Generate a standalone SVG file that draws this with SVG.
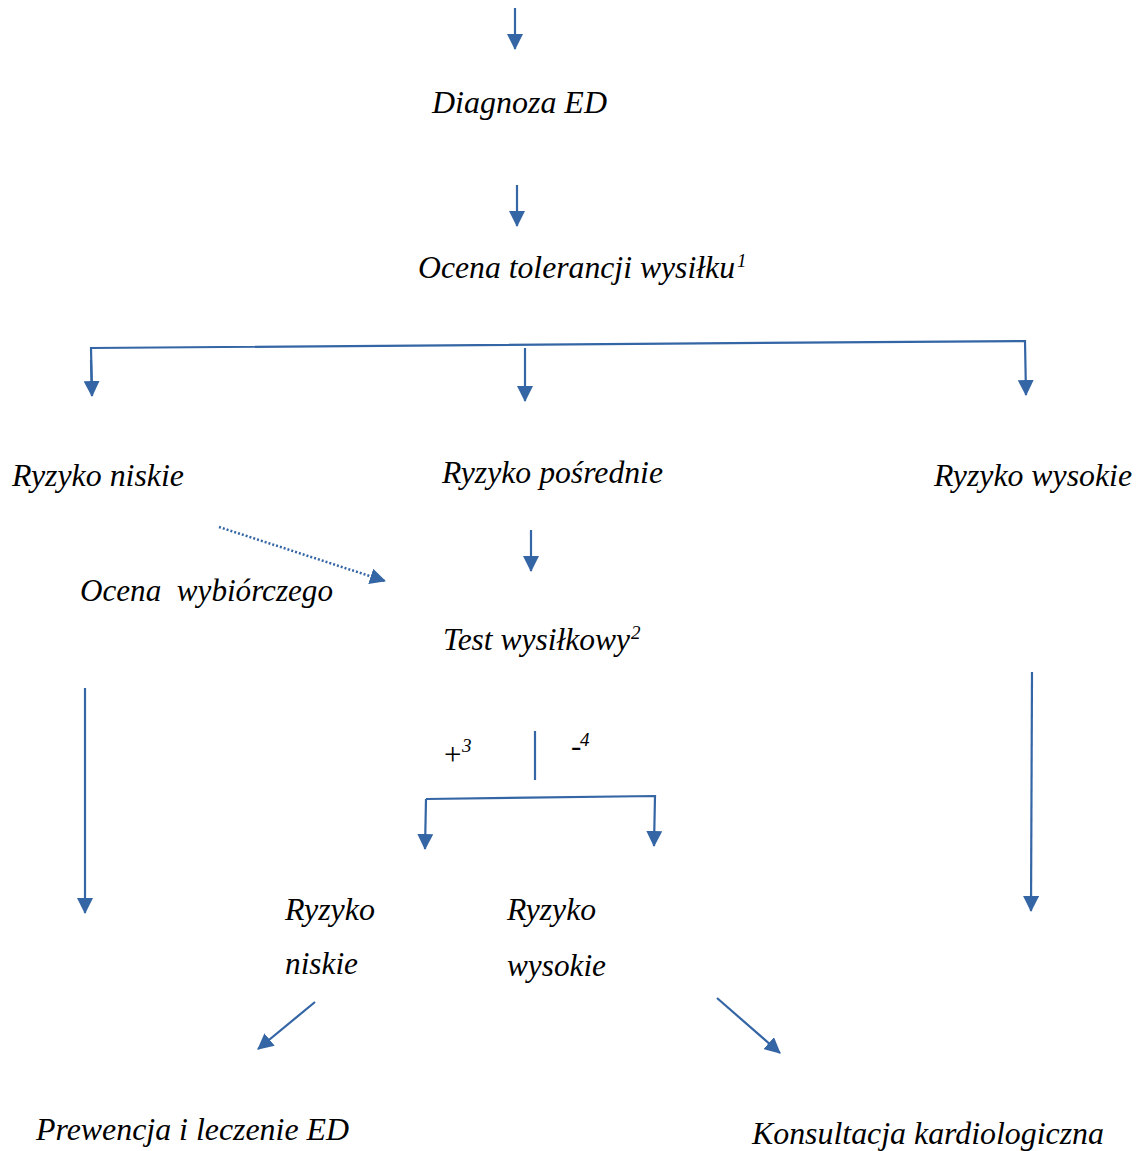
<svg xmlns="http://www.w3.org/2000/svg" width="1136" height="1151" viewBox="0 0 1136 1151">
<style>
text{font-family:"Liberation Serif","Times New Roman",serif;font-style:italic;font-size:31px;fill:#000;white-space:pre}
.sup{font-size:19px}
.ln{stroke:#3465a4;stroke-width:2.2;fill:none}
.dot{stroke:#3465a4;stroke-width:2.5;fill:none;stroke-dasharray:2 2}
</style>
<defs>
<marker id="ah" markerUnits="userSpaceOnUse" markerWidth="16" markerHeight="16" viewBox="0 0 16 16" refX="15" refY="8" orient="auto">
<path d="M0,0 L16,8 L0,16 Z" fill="#3465a4"/>
</marker>
</defs>
<g id="connectors">
<line class="ln" x1="515" y1="8" x2="515" y2="49" marker-end="url(#ah)"/>
<line class="ln" x1="517" y1="185" x2="517" y2="226" marker-end="url(#ah)"/>
<polyline class="ln" points="92,395 91,348 1025,341 1026,395" marker-end="url(#ah)"/>
<line class="ln" x1="91" y1="360" x2="92" y2="396" marker-end="url(#ah)"/>
<line class="ln" x1="525" y1="348" x2="525" y2="401" marker-end="url(#ah)"/>
<line class="dot" x1="219" y1="527" x2="385" y2="581" marker-end="url(#ah)"/>
<line class="ln" x1="531" y1="530" x2="531" y2="571" marker-end="url(#ah)"/>
<line class="ln" x1="535" y1="731" x2="535" y2="780"/>
<polyline class="ln" points="426,799 655,796 654,846" marker-end="url(#ah)"/>
<line class="ln" x1="426" y1="799" x2="425" y2="849" marker-end="url(#ah)"/>
<line class="ln" x1="85" y1="688" x2="85" y2="913" marker-end="url(#ah)"/>
<line class="ln" x1="1032" y1="672" x2="1031" y2="911" marker-end="url(#ah)"/>
<line class="ln" x1="315" y1="1002" x2="258" y2="1049" marker-end="url(#ah)"/>
<line class="ln" x1="717" y1="998" x2="780" y2="1053" marker-end="url(#ah)"/>
</g>
<g id="n-diagnoza"><text x="432" y="113" textLength="175" lengthAdjust="spacingAndGlyphs">Diagnoza ED</text></g>
<g id="n-ocena"><text x="418" y="278" textLength="317" lengthAdjust="spacingAndGlyphs">Ocena tolerancji wysiłku</text><text class="sup" x="737" y="267">1</text></g>
<g id="n-niskie"><text x="12" y="486" textLength="172" lengthAdjust="spacingAndGlyphs">Ryzyko niskie</text></g>
<g id="n-posrednie"><text x="442" y="483" textLength="221" lengthAdjust="spacingAndGlyphs">Ryzyko pośrednie</text></g>
<g id="n-wysokie"><text x="934" y="486" textLength="198" lengthAdjust="spacingAndGlyphs">Ryzyko wysokie</text></g>
<g id="n-wybiorczego"><text x="80" y="601" textLength="253" lengthAdjust="spacingAndGlyphs">Ocena  wybiórczego</text></g>
<g id="n-test"><text x="443" y="650" textLength="187" lengthAdjust="spacingAndGlyphs">Test wysiłkowy</text><text class="sup" x="631" y="639">2</text></g>
<g id="n-plus"><text x="442" y="765">+</text><text class="sup" x="462" y="752">3</text></g>
<g id="n-minus"><text x="571" y="756">-</text><text class="sup" x="580" y="746">4</text></g>
<g id="n-niskie2"><text x="285" y="920" textLength="90" lengthAdjust="spacingAndGlyphs">Ryzyko</text><text x="285" y="974" textLength="73" lengthAdjust="spacingAndGlyphs">niskie</text></g>
<g id="n-wysokie2"><text x="507" y="920" textLength="89" lengthAdjust="spacingAndGlyphs">Ryzyko</text><text x="507" y="976" textLength="99" lengthAdjust="spacingAndGlyphs">wysokie</text></g>
<g id="n-prewencja"><text x="36" y="1140" textLength="313" lengthAdjust="spacingAndGlyphs">Prewencja i leczenie ED</text></g>
<g id="n-konsultacja"><text x="752" y="1144" textLength="352" lengthAdjust="spacingAndGlyphs">Konsultacja kardiologiczna</text></g>
</svg>
